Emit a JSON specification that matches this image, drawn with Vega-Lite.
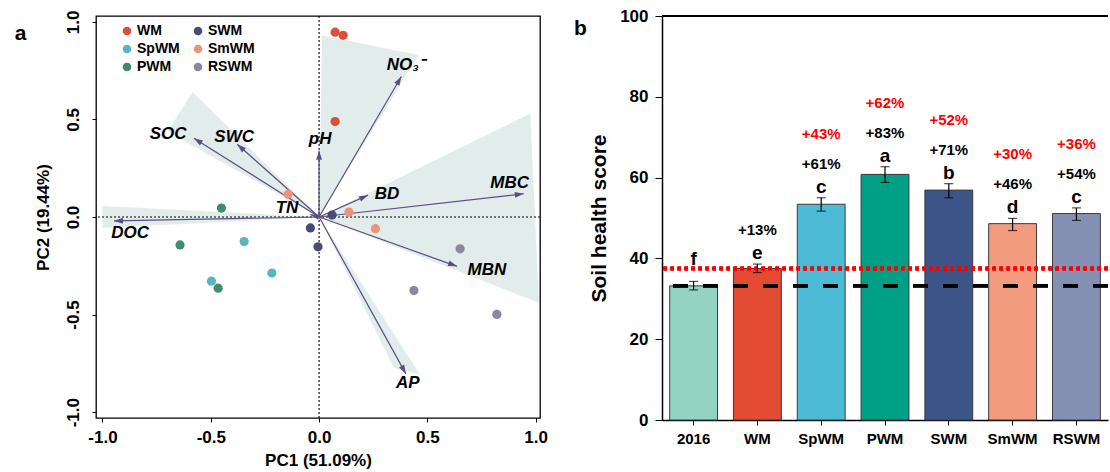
{
  "$schema": "https://vega.github.io/schema/vega-lite/v6.json",
  "padding": {"left": 13, "top": 7, "right": 0, "bottom": 0},
  "background": "white",
  "config": {
    "font": "Liberation Sans",
    "axis": {"labelColor": "black", "titleColor": "black", "domainColor": "black", "tickColor": "black", "grid": false, "labelFont": "Liberation Sans", "titleFont": "Liberation Sans"},
    "text": {"font": "Liberation Sans"},
    "legend": {"labelFont": "Liberation Sans"}
  },
  "spacing": 24,
  "resolve": {"scale": {"color": "independent"}, "legend": {"color": "independent"}},
  "datasets": {
    "points": [
      {"group": "WM", "x": 0.074, "y": 0.947},
      {"group": "WM", "x": 0.111, "y": 0.931},
      {"group": "WM", "x": 0.074, "y": 0.489},
      {"group": "SWM", "x": 0.060, "y": 0.010},
      {"group": "SWM", "x": -0.040, "y": -0.056},
      {"group": "SWM", "x": -0.005, "y": -0.153},
      {"group": "SmWM", "x": -0.143, "y": 0.117},
      {"group": "SmWM", "x": 0.138, "y": 0.025},
      {"group": "SmWM", "x": 0.260, "y": -0.060},
      {"group": "RSWM", "x": 0.651, "y": -0.163},
      {"group": "RSWM", "x": 0.438, "y": -0.377},
      {"group": "RSWM", "x": 0.821, "y": -0.499},
      {"group": "PWM", "x": -0.451, "y": 0.046},
      {"group": "PWM", "x": -0.642, "y": -0.143},
      {"group": "PWM", "x": -0.466, "y": -0.365},
      {"group": "SpWM", "x": -0.346, "y": -0.126},
      {"group": "SpWM", "x": -0.497, "y": -0.329},
      {"group": "SpWM", "x": -0.218, "y": -0.287}
    ],
    "vectors": [
      {"var": "NO3", "x": 0.38, "y": 0.72},
      {"var": "pH", "x": 0.0, "y": 0.34},
      {"var": "BD", "x": 0.226, "y": 0.112},
      {"var": "MBC", "x": 0.945, "y": 0.119},
      {"var": "TN", "x": -0.04, "y": 0.012},
      {"var": "SOC", "x": -0.578, "y": 0.404},
      {"var": "SWC", "x": -0.378, "y": 0.373},
      {"var": "DOC", "x": -0.947, "y": -0.02},
      {"var": "MBN", "x": 0.637, "y": -0.253},
      {"var": "AP", "x": 0.401, "y": -0.804}
    ],
    "vlabels": [
      {"label": "NO₃⁻", "x": 0.40, "y": 0.78},
      {"label": "pH", "x": 0.005, "y": 0.40},
      {"label": "BD", "x": 0.314, "y": 0.117},
      {"label": "MBC", "x": 0.88, "y": 0.173},
      {"label": "TN", "x": -0.148, "y": 0.046},
      {"label": "SOC", "x": -0.697, "y": 0.427},
      {"label": "SWC", "x": -0.392, "y": 0.412},
      {"label": "DOC", "x": -0.872, "y": -0.08},
      {"label": "MBN", "x": 0.775, "y": -0.27},
      {"label": "AP", "x": 0.41, "y": -0.85}
    ],
    "hulls": [
      {"id": "NO3", "k": 1, "x": 0.0, "y": 0.0},
      {"id": "NO3", "k": 2, "x": 0.014, "y": 0.93},
      {"id": "NO3", "k": 3, "x": 0.46, "y": 0.83},
      {"id": "MB", "k": 1, "x": 0.0, "y": 0.0},
      {"id": "MB", "k": 2, "x": 0.975, "y": 0.53},
      {"id": "MB", "k": 3, "x": 1.015, "y": -0.44},
      {"id": "SOC", "k": 1, "x": 0.0, "y": 0.0},
      {"id": "SOC", "k": 2, "x": -0.70, "y": 0.44},
      {"id": "SOC", "k": 3, "x": -0.583, "y": 0.64},
      {"id": "DOC", "k": 1, "x": 0.0, "y": 0.0},
      {"id": "DOC", "k": 2, "x": -1.0, "y": 0.056},
      {"id": "DOC", "k": 3, "x": -1.0, "y": -0.056},
      {"id": "AP", "k": 1, "x": 0.0, "y": 0.0},
      {"id": "AP", "k": 2, "x": 0.346, "y": -0.774},
      {"id": "AP", "k": 3, "x": 0.466, "y": -0.809}
    ],
    "bars": [
      {"group": "2016", "score": 33.2, "lo": 32.2, "hi": 34.3, "letter": "f", "pct": "", "pct2": ""},
      {"group": "WM", "score": 37.5, "lo": 36.5, "hi": 38.6, "letter": "e", "pct": "+13%", "pct2": ""},
      {"group": "SpWM", "score": 53.4, "lo": 51.7, "hi": 55.0, "letter": "c", "pct": "+61%", "pct2": "+43%"},
      {"group": "PWM", "score": 60.8, "lo": 58.8, "hi": 62.7, "letter": "a", "pct": "+83%", "pct2": "+62%"},
      {"group": "SWM", "score": 56.9, "lo": 55.0, "hi": 58.5, "letter": "b", "pct": "+71%", "pct2": "+52%"},
      {"group": "SmWM", "score": 48.6, "lo": 46.9, "hi": 49.9, "letter": "d", "pct": "+46%", "pct2": "+30%"},
      {"group": "RSWM", "score": 51.1, "lo": 49.4, "hi": 52.5, "letter": "c", "pct": "+54%", "pct2": "+36%"}
    ],
    "one": [{"v": 0}]
  },
  "hconcat": [
    {
      "width": 444,
      "height": 402,
      "view": {"stroke": "black", "strokeWidth": 1.3},
      "title": {"text": "a", "orient": "left", "anchor": "end", "frame": "bounds", "angle": 0, "align": "right", "baseline": "top", "fontSize": 21, "fontWeight": "bold", "offset": -4, "dy": 13, "color": "black"},
      "layer": [
        {
          "data": {"name": "hulls"},
          "mark": {"type": "line", "fill": "#DFEAE9", "fillOpacity": 0.9, "strokeOpacity": 0, "strokeWidth": 0},
          "encoding": {
            "x": {"field": "x", "type": "quantitative", "scale": {"domain": [-1.03, 1.02], "nice": false, "zero": false},
              "axis": {"title": "PC1 (51.09%)", "values": [-1, -0.5, 0, 0.5, 1], "labelExpr": "replace(format(datum.value, '.1f'), '−', '-')", "labelFontSize": 17, "labelFontWeight": "bold", "titleFontSize": 17, "titleFontWeight": "bold", "domain": false, "tickSize": 4, "labelPadding": 7, "titlePadding": 7}},
            "y": {"field": "y", "type": "quantitative", "scale": {"domain": [-1.03, 1.03], "nice": false, "zero": false},
              "axis": {"title": "PC2 (19.44%)", "values": [-1, -0.5, 0, 0.5, 1], "labelExpr": "replace(format(datum.value, '.1f'), '−', '-')", "labelFontSize": 17, "labelFontWeight": "bold", "titleFontSize": 17, "titleFontWeight": "bold", "domain": false, "tickSize": 4, "labelAngle": -90, "labelAlign": "center", "labelBaseline": "bottom", "labelPadding": 10, "titlePadding": 12}},
            "detail": {"field": "id", "type": "nominal"},
            "order": {"field": "k", "type": "quantitative"}
          }
        },
        {
          "data": {"name": "one"},
          "mark": {"type": "rule", "color": "black", "strokeDash": [2, 2], "strokeWidth": 1.1},
          "encoding": {"x": {"field": "v", "type": "quantitative"}}
        },
        {
          "data": {"name": "one"},
          "mark": {"type": "rule", "color": "black", "strokeDash": [2, 2], "strokeWidth": 1.1},
          "encoding": {"y": {"field": "v", "type": "quantitative"}}
        },
        {
          "data": {"name": "vectors"},
          "transform": [{"calculate": "0", "as": "o"}],
          "mark": {"type": "rule", "color": "#5B4E83", "strokeWidth": 1.2},
          "encoding": {
            "x": {"field": "o", "type": "quantitative"},
            "y": {"field": "o", "type": "quantitative"},
            "x2": {"field": "x"},
            "y2": {"field": "y"}
          }
        },
        {
          "data": {"name": "vectors"},
          "transform": [{"calculate": "atan2(datum.x * 216.7, datum.y * 196.5) * 180 / PI", "as": "ang"}],
          "mark": {"type": "point", "shape": "M0,0L0.65,2L-0.65,2Z", "filled": true, "color": "#5B4E83", "size": 81, "opacity": 1},
          "encoding": {
            "x": {"field": "x", "type": "quantitative"},
            "y": {"field": "y", "type": "quantitative"},
            "angle": {"field": "ang", "type": "quantitative", "scale": null}
          }
        },
        {
          "data": {"name": "vlabels"},
          "mark": {"type": "text", "fontSize": 17, "fontWeight": "bold", "fontStyle": "italic", "color": "black"},
          "encoding": {
            "x": {"field": "x", "type": "quantitative"},
            "y": {"field": "y", "type": "quantitative"},
            "text": {"field": "label", "type": "nominal"}
          }
        },
        {
          "data": {"name": "points"},
          "mark": {"type": "point", "filled": true, "size": 85, "opacity": 1},
          "encoding": {
            "x": {"field": "x", "type": "quantitative"},
            "y": {"field": "y", "type": "quantitative"},
            "color": {"field": "group", "type": "nominal",
              "scale": {"domain": ["WM", "SpWM", "PWM", "SWM", "SmWM", "RSWM"], "range": ["#D9513C", "#5BB5BF", "#3D8E6F", "#4B4B78", "#EE927A", "#8A87A0"]},
              "legend": {"orient": "none", "legendX": 24, "legendY": 8, "columns": 2, "title": null, "labelFontSize": 14, "labelFontWeight": "bold", "labelColor": "black", "symbolSize": 75, "symbolType": "circle", "rowPadding": 4, "columnPadding": 11, "labelOffset": 3, "padding": 0}}
          }
        }
      ]
    },
    {
      "width": 446,
      "height": 404,
      "view": {"stroke": null},
      "title": {"text": "b", "orient": "left", "anchor": "end", "frame": "bounds", "angle": 0, "align": "right", "baseline": "top", "fontSize": 21, "fontWeight": "bold", "offset": 2, "dx": 13, "dy": 11, "color": "black"},
      "data": {"name": "bars"},
      "layer": [
        {
          "mark": {"type": "bar", "stroke": "#3A3A3A", "strokeWidth": 1},
          "encoding": {
            "x": {"field": "group", "type": "nominal", "sort": null, "scale": {"paddingInner": 0.25, "paddingOuter": 0.12},
              "axis": {"title": null, "labelAngle": 0, "labelFontSize": 15, "labelFontWeight": "bold", "tickSize": 5, "labelPadding": 6, "domainWidth": 1.5}},
            "y": {"field": "score", "type": "quantitative", "scale": {"domain": [0, 100], "nice": false},
              "axis": {"title": "Soil health score", "values": [0, 20, 40, 60, 80, 100], "labelFontSize": 17, "labelFontWeight": "bold", "titleFontSize": 21, "titleFontWeight": "bold", "tickSize": 7, "labelPadding": 7, "titlePadding": 10, "domainWidth": 1.5}},
            "color": {"field": "group", "type": "nominal", "legend": null,
              "scale": {"domain": ["2016", "WM", "SpWM", "PWM", "SWM", "SmWM", "RSWM"], "range": ["#93D3C2", "#E34C33", "#4DBAD6", "#00A087", "#3C5488", "#F39B7F", "#8491B4"]}}
          }
        },
        {
          "mark": {"type": "rule", "color": "black", "strokeWidth": 1.2},
          "encoding": {"y": {"datum": 100, "type": "quantitative"}}
        },
        {
          "mark": {"type": "rule", "color": "black", "strokeWidth": 3, "strokeDash": [15, 15]},
          "encoding": {"y": {"datum": 33.2, "type": "quantitative"}}
        },
        {
          "mark": {"type": "rule", "color": "#FF0000", "strokeWidth": 3.5, "strokeDash": [3.5, 3.5]},
          "encoding": {"y": {"datum": 37.5, "type": "quantitative"}}
        },
        {
          "mark": {"type": "rule", "color": "black", "strokeWidth": 1.2},
          "encoding": {"x": {"field": "group", "type": "nominal", "sort": null}, "y": {"field": "lo", "type": "quantitative"}, "y2": {"field": "hi"}}
        },
        {
          "mark": {"type": "tick", "color": "black", "thickness": 1.2, "size": 9},
          "encoding": {"x": {"field": "group", "type": "nominal", "sort": null}, "y": {"field": "lo", "type": "quantitative"}}
        },
        {
          "mark": {"type": "tick", "color": "black", "thickness": 1.2, "size": 9},
          "encoding": {"x": {"field": "group", "type": "nominal", "sort": null}, "y": {"field": "hi", "type": "quantitative"}}
        },
        {
          "transform": [{"filter": "datum.group != '2016'"}],
          "mark": {"type": "text", "fontSize": 19, "fontWeight": "bold", "color": "black", "baseline": "middle", "dy": -11},
          "encoding": {"x": {"field": "group", "type": "nominal", "sort": null}, "y": {"field": "hi", "type": "quantitative"}, "text": {"field": "letter", "type": "nominal"}}
        },
        {
          "transform": [{"filter": "datum.group == '2016'"}],
          "mark": {"type": "text", "fontSize": 19, "fontWeight": "bold", "color": "black", "baseline": "middle", "dy": -22},
          "encoding": {"x": {"field": "group", "type": "nominal", "sort": null}, "y": {"field": "hi", "type": "quantitative"}, "text": {"field": "letter", "type": "nominal"}}
        },
        {
          "mark": {"type": "text", "fontSize": 15, "fontWeight": "bold", "color": "black", "baseline": "middle", "dy": -34},
          "encoding": {"x": {"field": "group", "type": "nominal", "sort": null}, "y": {"field": "hi", "type": "quantitative"}, "text": {"field": "pct", "type": "nominal"}}
        },
        {
          "mark": {"type": "text", "fontSize": 15, "fontWeight": "bold", "color": "#FF0000", "baseline": "middle", "dy": -64},
          "encoding": {"x": {"field": "group", "type": "nominal", "sort": null}, "y": {"field": "hi", "type": "quantitative"}, "text": {"field": "pct2", "type": "nominal"}}
        }
      ]
    }
  ]
}
